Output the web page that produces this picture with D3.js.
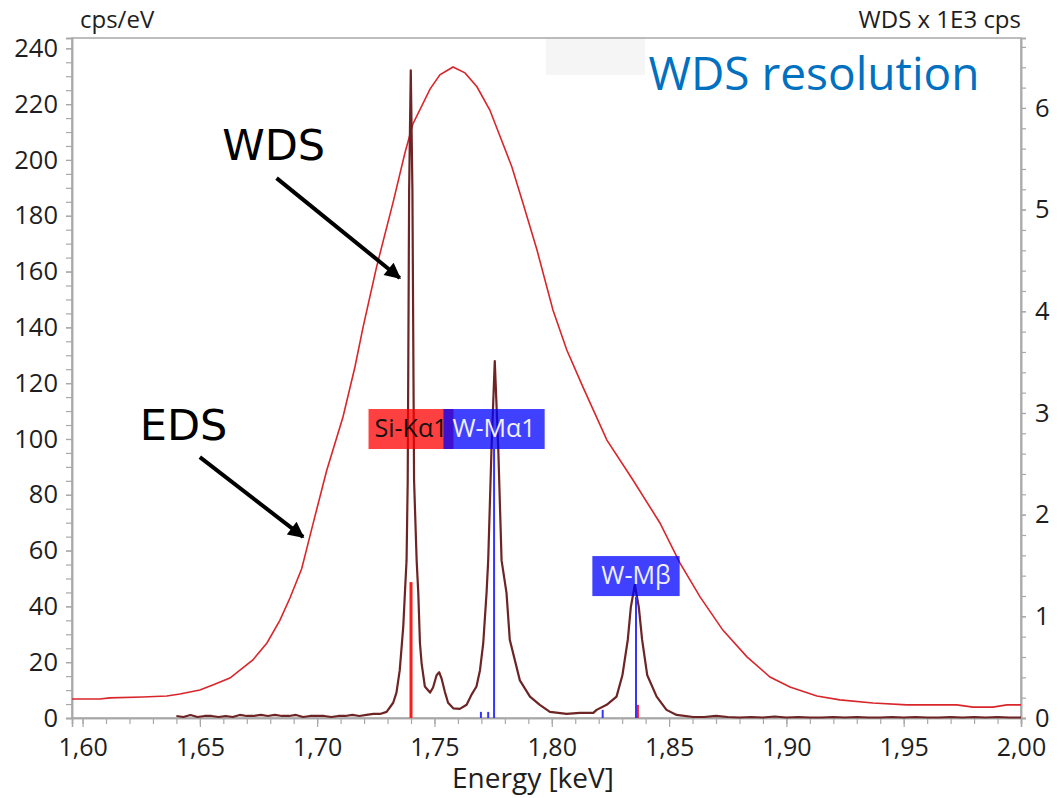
<!DOCTYPE html>
<html>
<head>
<meta charset="utf-8">
<script src="https://cdn.jsdelivr.net/npm/d3@7"></script>
<style>
body { margin: 0; background: #fff; }
text { font-family: "Open Sans", sans-serif; }
</style>
</head>
<body>
<svg id="chart" width="1061" height="798"></svg>
<script>
// EDS spectrum, cps/eV (left axis)
var edsE = [1.5955, 1.6074, 1.6116, 1.6257, 1.6359, 1.6415, 1.6500, 1.6555, 1.6628, 1.6726, 1.6786, 1.6841, 1.6884, 1.6934, 1.6982, 1.7040, 1.7110, 1.7161, 1.7195, 1.7253, 1.7323, 1.7374, 1.7408, 1.7481, 1.7523, 1.7579, 1.7630, 1.7681, 1.7736, 1.7830, 1.7877, 1.7937, 1.8005, 1.8064, 1.8133, 1.8235, 1.8346, 1.8461, 1.8546, 1.8632, 1.8729, 1.8832, 1.8930, 1.9015, 1.9130, 1.9228, 1.9369, 1.9514, 1.9727, 1.9795, 1.9880, 1.9940, 2.0000];
var edsV = [6.8, 6.8, 7.2, 7.5, 7.9, 8.6, 10.0, 11.8, 14.3, 20.8, 26.9, 35.0, 43.0, 53.5, 69.5, 88.5, 107.9, 125.8, 139.8, 161.6, 184.6, 202.5, 212.9, 225.4, 230.5, 233.3, 231.2, 226.2, 217.9, 197.5, 184.6, 167.7, 146.2, 131.9, 118.6, 99.6, 85.3, 69.9, 55.6, 43.4, 31.5, 21.9, 14.7, 11.1, 7.9, 6.5, 5.4, 4.7, 4.7, 3.9, 3.9, 4.7, 4.7];

// WDS spectrum, x 1E3 cps (right axis)
var wdsE = [1.640, 1.643, 1.646, 1.649, 1.652, 1.655, 1.658, 1.661, 1.664, 1.667, 1.670, 1.673, 1.676, 1.679, 1.682, 1.685, 1.688, 1.691, 1.694, 1.697, 1.700, 1.703, 1.706, 1.709, 1.712, 1.715, 1.718, 1.721, 1.724,
  1.7268, 1.7296, 1.7324, 1.7338, 1.7352, 1.7367, 1.7374, 1.7381, 1.7386, 1.7392, 1.7399, 1.7406, 1.7413, 1.7424, 1.7431, 1.7438, 1.7445, 1.7459, 1.7481, 1.7494, 1.7509, 1.7520, 1.7530, 1.7544, 1.7558, 1.7580, 1.7608, 1.7637, 1.7658, 1.7679, 1.7694, 1.7708, 1.7722, 1.7729, 1.7743, 1.7757, 1.7772, 1.7786, 1.7807, 1.7821, 1.7864, 1.7907, 1.7949, 1.7992, 1.8063, 1.8120, 1.8177, 1.8191, 1.8234, 1.8276, 1.8301, 1.8324, 1.8337, 1.8354, 1.8371, 1.8385, 1.8407, 1.8447, 1.8489, 1.8532, 1.8603,
  1.865, 1.870, 1.875, 1.880, 1.885, 1.890, 1.895, 1.900, 1.905, 1.910, 1.915, 1.920, 1.925, 1.930, 1.935, 1.940, 1.945, 1.950, 1.955, 1.960, 1.965, 1.970, 1.975, 1.980, 1.985, 1.990, 1.995, 2.000];
var wdsV = [0.02, 0.01, 0.03, 0.01, 0.02, 0.02, 0.01, 0.02, 0.01, 0.03, 0.02, 0.02, 0.03, 0.02, 0.03, 0.02, 0.02, 0.03, 0.01, 0.02, 0.02, 0.02, 0.01, 0.02, 0.02, 0.03, 0.02, 0.03, 0.04,
  0.04, 0.06, 0.15, 0.25, 0.47, 0.90, 1.23, 1.55, 2.34, 5.19, 6.37, 5.19, 2.34, 1.55, 1.23, 0.74, 0.54, 0.31, 0.25, 0.30, 0.42, 0.45, 0.39, 0.26, 0.15, 0.095, 0.09, 0.13, 0.23, 0.31, 0.47, 0.74, 1.23, 1.55, 2.64, 3.51, 2.64, 1.55, 1.23, 0.77, 0.37, 0.21, 0.13, 0.06, 0.04, 0.05, 0.05, 0.08, 0.13, 0.21, 0.42, 0.77, 1.09, 1.31, 1.09, 0.77, 0.42, 0.21, 0.08, 0.03, 0.01,
  0.01, 0.02, 0.01, 0.005, 0.01, 0.005, 0.015, 0.005, 0.01, 0.005, 0.005, 0.01, 0.005, 0.01, 0.005, 0.005, 0.01, 0.005, 0.01, 0.005, 0.005, 0.01, 0.005, 0.01, 0.005, 0.01, 0.005, 0.005];

// labelled lines (energy keV, line top and label bottom in cps/eV)
var lineNames = ["Si-Kα1", "W-Mα1", "W-Mβ"];
var lineE = [1.7400, 1.7754, 1.8359];
var lineTop = [48.7, 96.4, 43.4];
var labelBottom = [96.4, 96.4, 43.7];
var lineElem = ["Si", "W", "W"];

// small unlabelled lines
var minorE = [1.7698, 1.7729, 1.8217, 1.8367];
var minorTop = [2.2, 2.2, 2.9, 4.7];
var minorElem = ["W", "W", "W", "Si"];

var xTicks = [1.60, 1.65, 1.70, 1.75, 1.80, 1.85, 1.90, 1.95, 2.00];
var yLeftTicks = [0, 20, 40, 60, 80, 100, 120, 140, 160, 180, 200, 220, 240];
var yRightTicks = [0, 1, 2, 3, 4, 5, 6];

var svg = d3.select("#chart");

var x = d3.scaleLinear().domain([1.5955, 2.0]).range([72, 1021]);
var yL = d3.scaleLinear().domain([0, 243.7]).range([718, 38]);
var yR = d3.scaleLinear().domain([0, 6.688]).range([718, 38]);

var elemColor = { Si: "#ff1a1a", W: "#3535ff" };
var boxColor = { Si: "rgba(255,0,0,0.75)", W: "rgba(0,0,255,0.75)" };
var boxText = { Si: "#111", W: "#f0f0ff" };
var boxPad = { Si: 6, W: 9 };

// light patch near the title
svg.append("rect")
    .attr("x", x(1.7975)).attr("y", yL(244.1))
    .attr("width", x(1.8397) - x(1.7975)).attr("height", yL(230.5) - yL(244.1))
    .attr("fill", "#f5f5f5");

// frame
svg.append("rect")
    .attr("x", x.range()[0]).attr("y", yL.range()[1])
    .attr("width", x.range()[1] - x.range()[0])
    .attr("height", yL.range()[0] - yL.range()[1])
    .attr("fill", "none").attr("stroke", "#a8a8a8").attr("stroke-width", 1.5);

function minorRange(a, b, step) {
    var out = [];
    for (var i = 0; a + i * step <= b + 1e-9; i++) out.push(+(a + i * step).toFixed(4));
    return out;
}

function styleAxis(g, size) {
    g.select(".domain").attr("stroke", "#a8a8a8").attr("stroke-width", 1.5);
    g.selectAll(".tick line").attr("stroke", "#a8a8a8").attr("stroke-width", 1.2);
    g.selectAll("text").attr("fill", "#1e1e1e").style("font-size", size + "px")
        .style("font-family", "'Open Sans', sans-serif");
}

// bottom axis
svg.append("g").attr("transform", "translate(0,718)")
    .call(d3.axisBottom(x).tickValues(minorRange(1.60, 2.0, 0.01)).tickSize(6).tickFormat(""))
    .call(styleAxis, 25);
svg.append("g").attr("transform", "translate(0,718)")
    .call(d3.axisBottom(x).tickValues(xTicks).tickSize(9).tickPadding(11)
        .tickFormat(function(d) { return d3.format(".2f")(d).replace(".", ","); }))
    .call(styleAxis, 25);

// left axis
svg.append("g").attr("transform", "translate(72,0)")
    .call(d3.axisLeft(yL).tickValues(minorRange(0, 240, 5)).tickSize(6).tickFormat(""))
    .call(styleAxis, 25);
svg.append("g").attr("transform", "translate(72,0)")
    .call(d3.axisLeft(yL).tickValues(yLeftTicks).tickSize(6).tickPadding(8).tickFormat(d3.format("d")))
    .call(styleAxis, 25.5);

// right axis
svg.append("g").attr("transform", "translate(1021,0)")
    .call(d3.axisRight(yR).tickValues(minorRange(0, 6.6, 0.2)).tickSize(5).tickFormat(""))
    .call(styleAxis, 25);
svg.append("g").attr("transform", "translate(1021,0)")
    .call(d3.axisRight(yR).tickValues(yRightTicks).tickSize(5).tickPadding(9).tickFormat(d3.format("d")))
    .call(styleAxis, 25.5);

// axis titles
svg.append("text").attr("x", 80).attr("y", 28).attr("fill", "#1e1e1e")
    .style("font-size", "24px").text("cps/eV");
svg.append("text").attr("x", 1021).attr("y", 28).attr("text-anchor", "end").attr("fill", "#1e1e1e")
    .style("font-size", "24px").text("WDS x 1E3 cps");
svg.append("text").attr("x", 533).attr("y", 788).attr("text-anchor", "middle")
    .attr("fill", "#1e1e1e").style("font-size", "28px").text("Energy [keV]");

// EDS curve
var edsLine = d3.line().x(function(d, i) { return x(edsE[i]); }).y(function(d) { return yL(d); });
svg.append("path").datum(edsV)
    .attr("d", edsLine)
    .attr("fill", "none").attr("stroke", "#d8262b").attr("stroke-width", 1.6);

// WDS curve
var wdsLine = d3.line().x(function(d, i) { return x(wdsE[i]); }).y(function(d) { return yR(d); });
svg.append("path").datum(wdsV)
    .attr("d", wdsLine)
    .attr("fill", "none").attr("stroke", "#6e2424").attr("stroke-width", 2.2)
    .attr("stroke-linejoin", "round");

// element lines
svg.selectAll(".minor-line").data(minorE).enter().append("line")
    .attr("class", "minor-line")
    .attr("x1", function(d) { return x(d); }).attr("x2", function(d) { return x(d); })
    .attr("y1", yL(0)).attr("y2", function(d, i) { return yL(minorTop[i]); })
    .attr("stroke", function(d, i) { return elemColor[minorElem[i]]; })
    .attr("stroke-width", 2);

svg.selectAll(".elem-line").data(lineE).enter().append("line")
    .attr("class", "elem-line")
    .attr("x1", function(d) { return x(d); }).attr("x2", function(d) { return x(d); })
    .attr("y1", yL(0)).attr("y2", function(d, i) { return yL(lineTop[i]); })
    .attr("stroke", function(d, i) { return elemColor[lineElem[i]]; })
    .attr("stroke-width", function(d, i) { return lineElem[i] == "Si" ? 3 : 2; });

// labels: boxes first, then all texts on top
var boxes = svg.append("g"), texts = svg.append("g");
lineNames.forEach(function(name, i) {
    var t = texts.append("text")
        .attr("x", x(lineE[i]))
        .attr("y", yL(labelBottom[i]) - 12)
        .attr("text-anchor", "middle")
        .attr("fill", boxText[lineElem[i]])
        .style("font-size", "25px")
        .text(name);
    var w = t.node().getComputedTextLength() + 2 * boxPad[lineElem[i]];
    boxes.append("rect")
        .attr("x", x(lineE[i]) - w / 2).attr("width", w)
        .attr("y", yL(labelBottom[i]) - 40).attr("height", 40)
        .attr("fill", boxColor[lineElem[i]]);
});

// annotations
svg.append("defs").append("marker")
    .attr("id", "arrow").attr("viewBox", "0 0 10 10")
    .attr("refX", 9).attr("refY", 5)
    .attr("markerWidth", 20).attr("markerHeight", 16)
    .attr("markerUnits", "userSpaceOnUse")
    .attr("orient", "auto")
    .append("path").attr("d", "M0,0L10,5L0,10Z").attr("fill", "#000");

var arrows = [
    { from: [1.6827, 193.5], to: [1.7352, 157.7] },
    { from: [1.6500, 93.5], to: [1.6940, 64.9] }
];
svg.selectAll(".arrow").data(arrows).enter().append("line")
    .attr("class", "arrow")
    .attr("x1", function(d) { return x(d.from[0]); }).attr("y1", function(d) { return yL(d.from[1]); })
    .attr("x2", function(d) { return x(d.to[0]); }).attr("y2", function(d) { return yL(d.to[1]); })
    .attr("stroke", "#000").attr("stroke-width", 4)
    .attr("marker-end", "url(#arrow)");

svg.append("text").attr("x", x(1.6595)).attr("y", yL(200))
    .style("font-family", "'DejaVu Sans', sans-serif").style("font-size", "43px")
    .attr("fill", "#000").text("WDS");
svg.append("text").attr("x", x(1.6244)).attr("y", yL(99.6))
    .style("font-family", "'DejaVu Sans', sans-serif").style("font-size", "43px")
    .attr("fill", "#000").text("EDS");
svg.append("text").attr("x", x(1.8412)).attr("y", yL(225))
    .style("font-size", "46px").attr("fill", "#0070c0").text("WDS resolution");
</script>
</body>
</html>
